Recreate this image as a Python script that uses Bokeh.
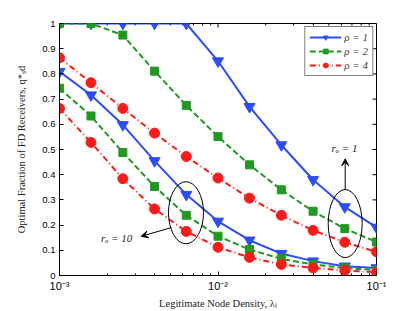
import math
from bokeh.plotting import figure
from bokeh.embed import file_html
from bokeh.resources import INLINE
from bokeh.models import Range1d, FixedTicker, Legend, LegendItem, Arrow, VeeHead
from bokeh.core.properties import value

# ---- data ----
density = [0.001, 0.00158, 0.00251, 0.00398, 0.00631, 0.01, 0.0158, 0.0251, 0.0398, 0.0631, 0.1]
rho1_ro1 = [1.0, 1.0, 1.0, 1.0, 1.0, 0.851, 0.670, 0.518, 0.380, 0.272, 0.191]
rho2_ro1 = [1.0, 1.0, 0.954, 0.811, 0.675, 0.551, 0.439, 0.340, 0.255, 0.186, 0.133]
rho4_ro1 = [0.864, 0.765, 0.663, 0.565, 0.472, 0.387, 0.307, 0.239, 0.179, 0.132, 0.094]
rho1_ro10 = [0.809, 0.716, 0.598, 0.455, 0.321, 0.215, 0.140, 0.087, 0.057, 0.037, 0.030]
rho2_ro10 = [0.743, 0.633, 0.488, 0.353, 0.239, 0.156, 0.103, 0.066, 0.044, 0.030, 0.021]
rho4_ro10 = [0.663, 0.528, 0.384, 0.264, 0.175, 0.112, 0.072, 0.044, 0.030, 0.020, 0.013]
legend_labels = ["\u03c1 = 1", "\u03c1 = 2", "\u03c1 = 4"]
y_ticks = [0, 0.1, 0.2, 0.3, 0.4, 0.5, 0.6, 0.7, 0.8, 0.9, 1.0]
y_tick_labels = ["0", "0.1", "0.2", "0.3", "0.4", "0.5", "0.6", "0.7", "0.8", "0.9", "1"]
x_ticks = [0.001, 0.01, 0.1]
x_tick_labels = ["10\u207b\u00b3", "10\u207b\u00b2", "10\u207b\u00b9"]
x_minor = [0.002, 0.003, 0.004, 0.005, 0.006, 0.007, 0.008, 0.009,
           0.02, 0.03, 0.04, 0.05, 0.06, 0.07, 0.08, 0.09]

BLUE = "#2b4cff"
GREEN = "#1f9a1f"
RED = "#ff1a1a"

p = figure(width=415, height=311, x_axis_type="log", output_backend="svg",
           toolbar_location=None, x_range=Range1d(1e-3, 1e-1), y_range=Range1d(0, 1),
           min_border_left=59, min_border_right=39, min_border_top=23, min_border_bottom=35)
p.xgrid.visible = False
p.ygrid.visible = False
p.outline_line_color = "black"
p.background_fill_color = "white"

def style_axis(ax):
    ax.major_tick_in = 4
    ax.major_tick_out = 0
    ax.minor_tick_in = 2
    ax.minor_tick_out = 0
    ax.axis_line_color = "black"
    ax.major_tick_line_color = "black"
    ax.minor_tick_line_color = "black"
    ax.major_label_text_font = "Liberation Sans"
    ax.major_label_text_font_size = "9.5px"
    ax.major_label_text_color = "black"
    ax.axis_label_text_font = "Liberation Serif"
    ax.axis_label_text_font_style = "normal"
    ax.axis_label_text_font_size = "10.5px"
    ax.axis_label_text_color = "#222222"

xa = p.xaxis[0]
ya = p.yaxis[0]
style_axis(xa)
style_axis(ya)
ya.ticker = FixedTicker(ticks=y_ticks)
ya.major_label_overrides = {t: l for t, l in zip(y_ticks, y_tick_labels)}
ya.major_label_standoff = 4
ya.axis_label = "Optimal Fraction of FD Receivers, q*\u209bd"
ya.axis_label_standoff = 12
xa.ticker = FixedTicker(ticks=x_ticks, minor_ticks=x_minor)
xa.major_label_overrides = {t: l for t, l in zip(x_ticks, x_tick_labels)}
xa.major_label_text_font_size = "11px"
xa.axis_label = "Legitimate Node Density, \u03bb\u2097"
xa.major_label_standoff = 4
xa.axis_label_standoff = 3

# mirrored inward ticks on the top and right frame edges
p.ray(x=[0.1] * len(y_ticks), y=y_ticks, length=4, length_units="screen",
      angle=math.pi, line_color="black", line_width=1)
p.ray(x=x_ticks, y=[1.0] * len(x_ticks), length=4, length_units="screen",
      angle=-math.pi / 2, line_color="black", line_width=1)
p.ray(x=x_minor, y=[1.0] * len(x_minor), length=2, length_units="screen",
      angle=-math.pi / 2, line_color="black", line_width=1)

series = [
    (rho1_ro1, rho1_ro10, BLUE, "solid", "inverted_triangle", 11),
    (rho2_ro1, rho2_ro10, GREEN, "6 3", "square", 8),
    (rho4_ro1, rho4_ro10, RED, "6 3 1 3", "circle", 10),
]
items = []
for (ya1, ya10, col, dash, mk, sz), lab in zip(series, legend_labels):
    rs = []
    for yy in (ya1, ya10):
        l = p.line(density, yy, line_color=col, line_width=2, line_dash=dash)
        s = p.scatter(density, yy, marker=mk, size=sz, fill_color=col, line_color=col)
        rs.append((l, s))
    items.append(LegendItem(label=lab, renderers=[rs[0][0], rs[0][1]]))

leg = Legend(items=items, location="top_right", border_line_color="black", border_line_width=1,
             label_text_font="Liberation Serif", label_text_font_style="italic",
             label_text_font_size="11px", glyph_width=32, glyph_height=12, label_height=12,
             spacing=2, padding=4, margin=3, label_standoff=3, background_fill_alpha=1)
p.add_layout(leg)

# annotations: ellipses and arrows
p.ellipse(x=[10**-2.202, 10**-1.1975], y=[0.249, 0.206], width=[35, 34], height=[62, 68],
          width_units="screen", height_units="screen", fill_color=None, line_color="black", line_width=1)
p.add_layout(Arrow(end=VeeHead(size=7, line_color="black", fill_color="black"),
                   x_start=10**-2.2953, y_start=0.190, x_end=10**-2.4845, y_end=0.1555,
                   line_color="black", line_width=1))
p.add_layout(Arrow(end=VeeHead(size=7, line_color="black", fill_color="black"),
                   x_start=10**-1.1975, y_start=0.340, x_end=10**-1.1975, y_end=0.463,
                   line_color="black", line_width=1))
p.text(x=[10**-2.64, 10**-1.2019], y=[0.150, 0.5065], text=["r\u2092 = 10", "r\u2092 = 1"],
       text_font=value("Liberation Serif"), text_font_style="italic", text_font_size="11px",
       text_align="center", text_baseline="middle", text_color="#222222")

open("out.html", "w").write(file_html(p, INLINE))
